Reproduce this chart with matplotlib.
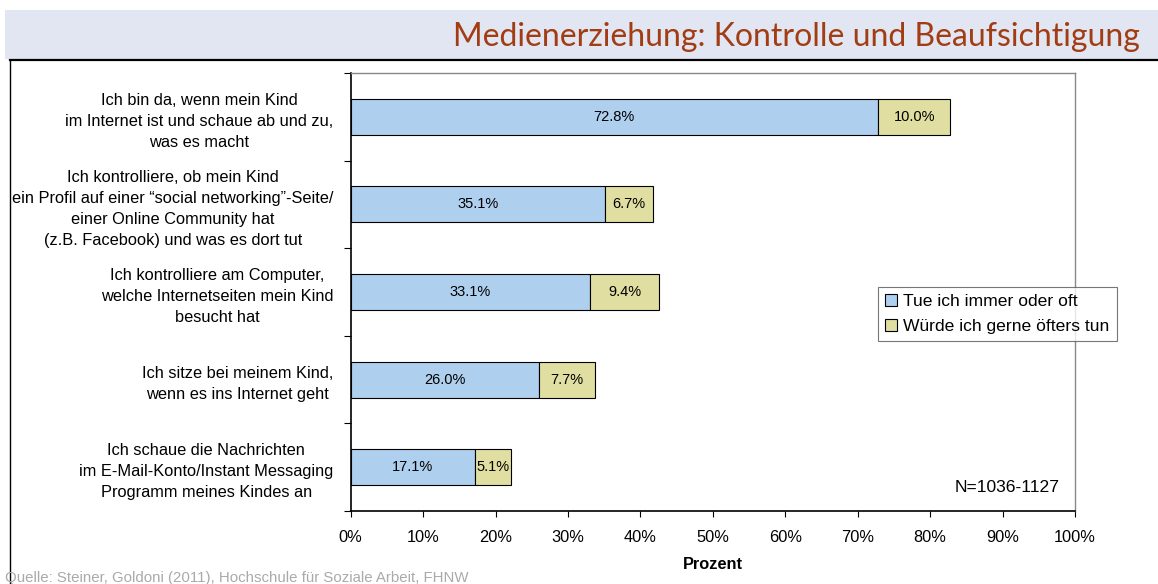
import matplotlib
matplotlib.use("Agg")
import matplotlib.pyplot as plt
from matplotlib.patches import Rectangle
from matplotlib.lines import Line2D

categories = [
    "Ich bin da, wenn mein Kind\nim Internet ist und schaue ab und zu,\nwas es macht",
    "Ich kontrolliere, ob mein Kind\nein Profil auf einer \u201csocial networking\u201d-Seite/\neiner Online Community hat\n(z.B. Facebook) und was es dort tut",
    "Ich kontrolliere am Computer,\nwelche Internetseiten mein Kind\nbesucht hat",
    "Ich sitze bei meinem Kind,\nwenn es ins Internet geht",
    "Ich schaue die Nachrichten\nim E-Mail-Konto/Instant Messaging\nProgramm meines Kindes an",
]
immer_oft = [72.8, 35.1, 33.1, 26.0, 17.1]
gerne_oefter = [10.0, 6.7, 9.4, 7.7, 5.1]
series_names = ["Tue ich immer oder oft", "W\u00fcrde ich gerne \u00f6fters tun"]
xticks = [0, 10, 20, 30, 40, 50, 60, 70, 80, 90, 100]
xtick_labels = [f"{v}%" for v in xticks]

W, H = 1158, 584
fig = plt.figure(figsize=(W / 100, H / 100), dpi=100)
fig.patch.set_facecolor("white")
FONT = "Liberation Sans"

# banner
fig.add_artist(Rectangle((5 / W, 1 - 59 / H), 1, 49 / H, transform=fig.transFigure,
                         facecolor="#E1E6F2", edgecolor="none", zorder=0))
fig.add_artist(Line2D([10 / W, 1], [1 - 60 / H, 1 - 60 / H], transform=fig.transFigure,
                      color="black", lw=1.6))
fig.add_artist(Line2D([10 / W, 10 / W], [0, 1 - 60 / H], transform=fig.transFigure,
                      color="black", lw=1.0))
fig.text(1140 / W, 1 - 37 / H, "Medienerziehung: Kontrolle und Beaufsichtigung",
         ha="right", va="center", fontsize=23, color="#A23C12", family="Lato")

ax = fig.add_axes([350.7 / W, (H - 511) / H, 724.3 / W, (511 - 73) / H])
blue = "#AECFEE"
yellow = "#E0DFA1"
ypos = list(range(len(categories)))
h = 0.41
ax.barh(ypos, immer_oft, height=h, color=blue, edgecolor="black", linewidth=0.8,
        label=series_names[0])
ax.barh(ypos, gerne_oefter, left=immer_oft, height=h, color=yellow, edgecolor="black",
        linewidth=0.8, label=series_names[1])
for y, a, b in zip(ypos, immer_oft, gerne_oefter):
    ax.text(a / 2, y, f"{a:.1f}%", ha="center", va="center", fontsize=10.5, family=FONT)
    ax.text(a + b / 2, y, f"{b:.1f}%", ha="center", va="center", fontsize=10.5, family=FONT)

ax.set_xlim(0, 100)
ax.set_ylim(len(categories) - 0.5, -0.5)
ax.set_xticks(xticks)
ax.set_xticklabels(xtick_labels, family=FONT, fontsize=11.8)
ax.set_yticks([i - 0.5 for i in range(len(categories) + 1)])
ax.set_yticklabels([])
ax.set_yticks(ypos, minor=True)
ax.set_yticklabels(categories, minor=True, family=FONT, fontsize=11.8,
                   multialignment="center", linespacing=1.5)
ax.tick_params(axis="y", which="minor", length=0, pad=12.5)
ax.tick_params(axis="y", which="major", length=5, direction="out", width=0.8)
ax.tick_params(axis="x", length=4, direction="out", width=0.8, pad=10)
for s in ["left", "bottom"]:
    ax.spines[s].set_color("black")
    ax.spines[s].set_linewidth(1.2)
for s in ["top", "right"]:
    ax.spines[s].set_color("#888888")
    ax.spines[s].set_linewidth(1.0)

ax.set_xlabel("Prozent", fontsize=11.8, fontweight="bold", family=FONT, labelpad=8)

leg = ax.legend(loc="upper left", bbox_to_anchor=((878 - 350.7) / 724.3, 1 - (287 - 73) / 438),
                frameon=True, fancybox=False, edgecolor="#555555",
                prop={"family": FONT, "size": 12.6},
                handlelength=0.7, handleheight=0.7, handletextpad=0.35,
                borderpad=0.4, labelspacing=0.55, borderaxespad=0)
leg.get_frame().set_linewidth(0.8)

fig.text(1060 / W, 1 - 487 / H, "N=1036-1127", ha="right",
         va="center", fontsize=12.6, family=FONT)

fig.text(5 / W, 1 - 578 / H, "Quelle: Steiner, Goldoni (2011), Hochschule f\u00fcr Soziale Arbeit, FHNW",
         ha="left", va="center", fontsize=10.8, color="#AAAAAA", family=FONT)

fig.savefig("out.png", dpi=100)
